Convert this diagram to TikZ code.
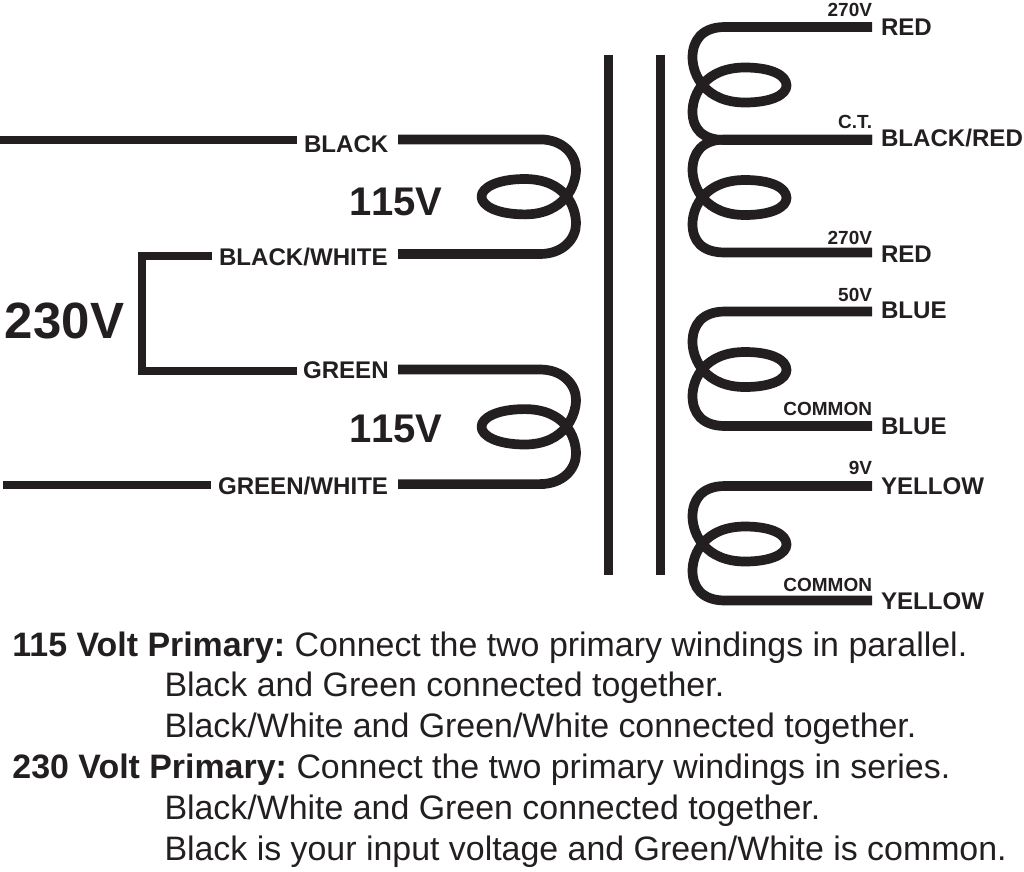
\documentclass[tikz,border=0pt]{standalone}
\usepackage{fontspec}
\setmainfont{Liberation Sans}
\newfontfamily\nokern[Kerning=Off]{Liberation Sans}
\newcommand{\fs}[1]{\fontsize{#1}{#1}\selectfont}
\definecolor{ink}{HTML}{231F20}
\tikzset{
  wire/.style={line width=9.7pt,ink,line cap=butt,line join=round},
  lead/.style={line width=8pt,ink,line cap=butt,line join=miter},
  core/.style={line width=9.5pt,ink,line cap=butt},
  lab/.style={inner sep=0pt,outer sep=0pt,font=\fs{24.1}\bfseries,anchor=base west,text=ink},
  tap/.style={inner sep=0pt,outer sep=0pt,font=\fs{19}\bfseries,anchor=base east,text=ink},
  volt/.style={inner sep=0pt,outer sep=0pt,font=\nokern\fs{40}\bfseries,anchor=base west,text=ink},
  body/.style={inner sep=0pt,outer sep=0pt,font=\fs{33.9},anchor=base west,text=ink}
}
% primary coil: shape only, centred on y
\newcommand{\primcoil}[1]{
  \begin{scope}[shift={(0,#1)}]
    \draw[wire] (398,-57.3) -- (540,-57.3)
      .. controls (563,-57.3) and (576,-42) .. (576,-27)
      .. controls (576,-12) and (565,17.5) .. (525,17.7)
      .. controls (497,17.7) and (481.5,9) .. (481.5,0)
      .. controls (481.5,-9) and (497,-17.7) .. (525,-17.7)
      .. controls (565,-17.5) and (576,10) .. (576,27)
      .. controls (576,42) and (563,57.3) .. (540,57.3)
      -- (398,57.3);
  \end{scope}}
% secondary coil
\newcommand{\seccoil}[2]{
  \begin{scope}[shift={(0,#1)}]
    \draw[wire] (872,-57.5) -- (725,-57.5)
      .. controls (702,-57.5) and (692.5,-44) .. (692.5,-27)
      .. controls (692.5,-10) and (705,18) .. (745,18)
      .. controls (772,18) and (786.5,10) .. (786.5,1)
      .. controls (786.5,-9) and (772,-17) .. (745,-17)
      .. controls (705,-17) and (692.5,10) .. (692.5,27)
      .. controls (692.5,44) and (702,#2) .. (725,#2)
      -- (872,#2);
  \end{scope}}
\begin{document}
\begin{tikzpicture}[x=1pt,y=-1pt]
\useasboundingbox (0,0) rectangle (1024,871);
% core
\coordinate (c1a) at (608.5,55); \coordinate (c1b) at (608.5,575);
\coordinate (c2a) at (660.5,55); \coordinate (c2b) at (660.5,575);
\draw[core] (c1a) -- (c1b);
\draw[core] (c2a) -- (c2b);
% primary
\primcoil{196.7}
\primcoil{426.8}
% secondary
\seccoil{84.5}{55.5}
\seccoil{197}{55.5}
\seccoil{369}{57}
\seccoil{543.5}{57}
% labels
\node[lab] (black) at (304,152.5) {BLACK};
\node[lab] (blackwhite) at (219,265.7) {BLACK/WHITE};
\node[lab] (green) at (303,378) {GREEN};
\node[lab] (greenwhite) at (218,494.5) {GREEN/WHITE};
\node[volt] (v1) at (349,215) {115V};
\node[volt] (v2) at (349,442) {115V};
\node[volt,font=\nokern\fs{51}\bfseries] (v3) at (5,338) {230V};
\node[lab] (r1) at (881,35) {RED};
\node[lab] (br) at (881,146) {BLACK/RED};
\node[lab] (r2) at (881,262) {RED};
\node[lab] (b1) at (881,318.5) {BLUE};
\node[lab] (b2) at (881,434) {BLUE};
\node[lab] (y1) at (881,494) {YELLOW};
\node[lab] (y2) at (881,609) {YELLOW};
\node[tap] (t1) at (872,16) {270V};
\node[tap] (t2) at (872,128) {C.T.};
\node[tap] (t3) at (872,244) {270V};
\node[tap] (t4) at (872,301) {50V};
\node[tap] (t5) at (872,415) {COMMON};
\node[tap] (t6) at (872,474) {9V};
\node[tap] (t7) at (872,591.5) {COMMON};
% leads
\coordinate (inA) at (0,140);
\coordinate (inB) at (3,485);
\coordinate (brB) at (142,255.5);
\coordinate (brC) at (142,371);
\coordinate (e1) at ([xshift=-7pt]black.west);
\coordinate (e2) at ([xshift=-7pt]blackwhite.west);
\coordinate (e3) at ([xshift=-6.5pt]green.west);
\coordinate (e4) at ([xshift=-7pt]greenwhite.west);
\draw[lead] (inA) -- (e1 |- inA);
\draw[lead] (e2 |- brB) -- (brB) -- (brC) -- (e3 |- brC);
\draw[lead] (inB) -- (e4 |- inB);
% text
\node[body] (l1) at (12.5,656) {\textbf{115 Volt Primary:}\hspace{-3pt} Connect the two primary windings in parallel.};
\node[body] (l2) at (164.5,696) {Black and Green connected together.};
\node[body] (l3) at (164.5,737) {Black/White and Green/White connected together.};
\node[body] (l4) at (12.5,778) {\textbf{230 Volt Primary:}\hspace{-3pt} Connect the two primary windings in series.};
\node[body] (l5) at (164.5,819) {Black/White and Green connected together.};
\node[body] (l6) at (164.5,860) {Black is your input voltage and Green/White is common.};
\end{tikzpicture}
\end{document}
